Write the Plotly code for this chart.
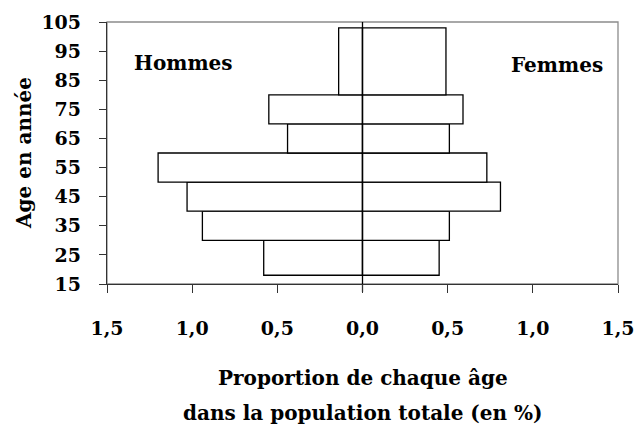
import numpy as np
import plotly.graph_objects as go

# tranches d'âge (bornes des barres)
age_lower = [18, 30, 40, 50, 60, 70, 80]
age_upper = [30, 40, 50, 60, 70, 80, 103]

# proportion (%) de chaque âge dans la population totale
hommes = [0.58, 0.94, 1.03, 1.20, 0.44, 0.55, 0.14]
femmes = [0.45, 0.51, 0.81, 0.73, 0.51, 0.59, 0.49]

x_ticks = [-1.5, -1.0, -0.5, 0.0, 0.5, 1.0, 1.5]
x_labels = ["1,5", "1,0", "0,5", "0,0", "0,5", "1,0", "1,5"]
y_ticks = list(range(15, 106, 10))

lower = np.array(age_lower)
upper = np.array(age_upper)
centers = (lower + upper) / 2
widths = upper - lower

FONT = "DejaVu Serif"
AXIS_COLOR = "#333333"

fig = go.Figure()

# Hommes (côté gauche)
fig.add_trace(
    go.Bar(
        y=centers,
        x=-np.array(hommes),
        width=widths,
        orientation="h",
        name="Hommes",
        marker=dict(color="white", line=dict(color="black", width=1.3)),
    )
)

# Femmes (côté droit)
fig.add_trace(
    go.Bar(
        y=centers,
        x=femmes,
        width=widths,
        orientation="h",
        name="Femmes",
        marker=dict(color="white", line=dict(color="black", width=1.3)),
    )
)

fig.update_layout(
    width=635,
    height=427,
    barmode="overlay",
    showlegend=False,
    plot_bgcolor="white",
    paper_bgcolor="white",
    margin=dict(l=107, r=17, t=22, b=143),
    font=dict(family=FONT, color="black"),
    xaxis=dict(
        range=[-1.5, 1.5],
        tickvals=x_ticks,
        ticktext=x_labels,
        tickfont=dict(size=19, family=FONT, weight="bold"),
        ticks="outside",
        ticklen=8,
        tickcolor=AXIS_COLOR,
        ticklabelstandoff=19,
        ticklabeloverflow="allow",
        showline=True,
        linecolor=AXIS_COLOR,
        linewidth=1.3,
        showgrid=False,
        zeroline=False,
        automargin=False,
    ),
    yaxis=dict(
        range=[15, 105],
        tickvals=y_ticks,
        tickfont=dict(size=19, family=FONT, weight="bold"),
        ticks="outside",
        ticklen=7,
        tickcolor=AXIS_COLOR,
        ticklabelstandoff=14,
        ticklabeloverflow="allow",
        showline=True,
        linecolor=AXIS_COLOR,
        linewidth=1.3,
        showgrid=False,
        zeroline=False,
        automargin=False,
    ),
    # petites graduations intérieures (graduations croisées)
    yaxis2=dict(
        range=[15, 105],
        overlaying="y",
        side="left",
        tickvals=y_ticks,
        showticklabels=False,
        ticks="inside",
        ticklen=8,
        tickcolor=AXIS_COLOR,
        showgrid=False,
        zeroline=False,
        showline=False,
    ),
)

# cadre gris (haut et droite) + axe vertical du zéro
fig.add_shape(type="rect", xref="paper", yref="paper", x0=0, x1=1, y0=0, y1=1,
              line=dict(color="#8c8c8c", width=1.3), layer="below")
fig.add_shape(type="line", xref="x", yref="paper", x0=0, x1=0, y0=0, y1=1,
              line=dict(color="black", width=1.3), layer="above")
fig.add_shape(type="line", xref="x", yref="paper", x0=0, x1=0, y0=0, y1=-0.03,
              line=dict(color=AXIS_COLOR, width=1.3), layer="above")

bold20 = dict(family=FONT, size=20, color="black", weight="bold")

fig.add_annotation(x=-1.053, y=91, text="Hommes", showarrow=False, font=bold20)
fig.add_annotation(x=1.144, y=90.3, text="Femmes", showarrow=False, font=bold20)

fig.add_annotation(xref="paper", yref="paper", x=0.5, y=0, yshift=-94,
                   text="Proportion de chaque âge", showarrow=False,
                   yanchor="middle", font=bold20)
fig.add_annotation(xref="paper", yref="paper", x=0.5, y=0, yshift=-129,
                   text="dans la population totale (en %)", showarrow=False,
                   yanchor="middle", font=bold20)
fig.add_annotation(xref="paper", yref="paper", x=0, y=0.5, xshift=-83,
                   text="Age en année", textangle=-90, showarrow=False,
                   xanchor="center", yanchor="middle", font=bold20)

fig.write_html("out.html", config={"displayModeBar": False},
               post_script="document.body.style.margin='0';")
